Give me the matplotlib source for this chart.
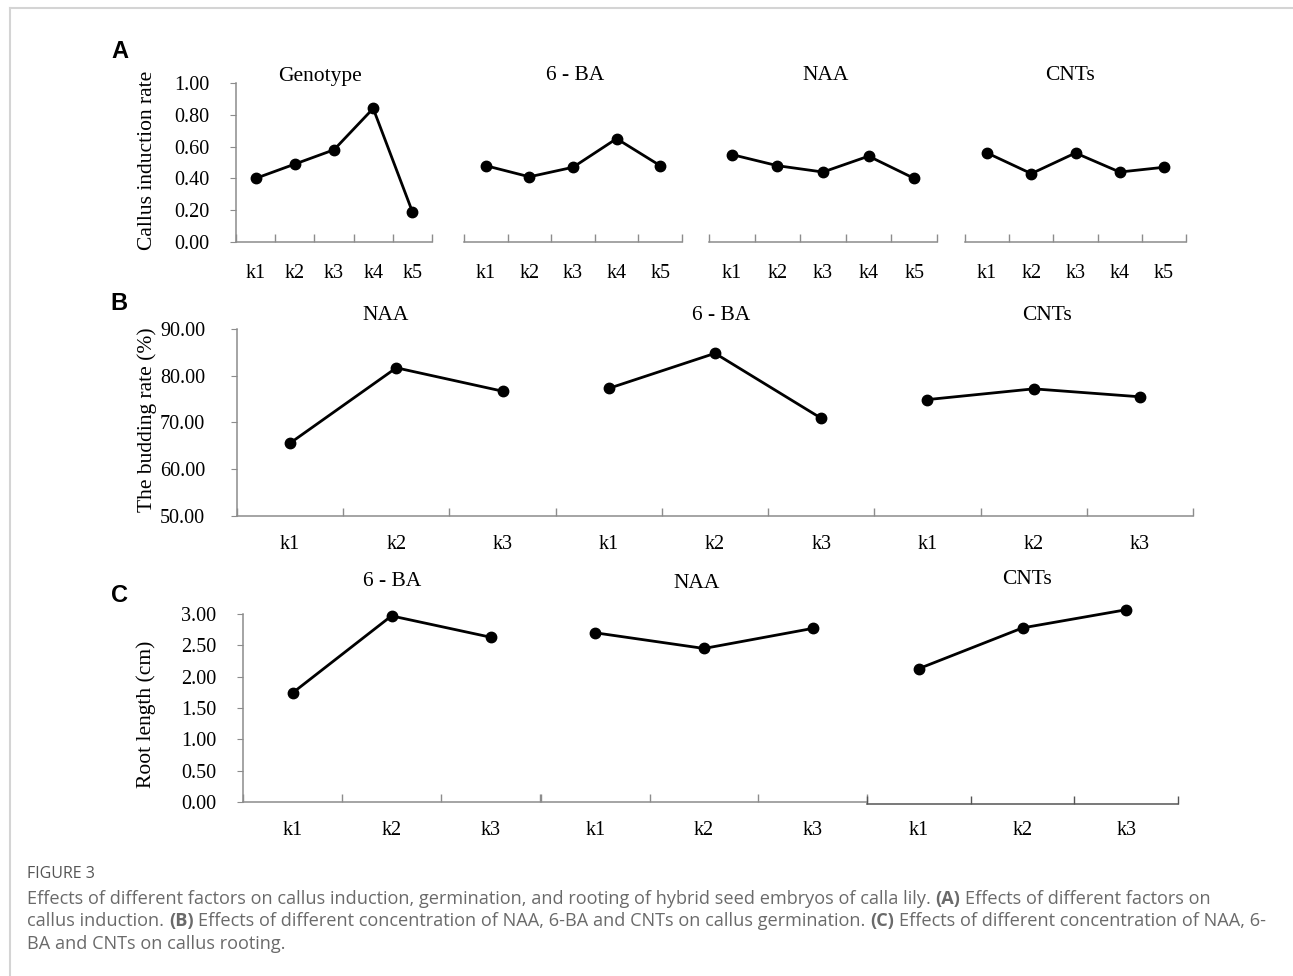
import matplotlib
matplotlib.use('Agg')
import matplotlib.pyplot as plt
from matplotlib.lines import Line2D
import numpy as np

# data
cats5 = ['k1', 'k2', 'k3', 'k4', 'k5']
cats3 = ['k1', 'k2', 'k3']

a_titles = ['Genotype', '6 - BA', 'NAA', 'CNTs']
a_genotype = [0.40, 0.49, 0.58, 0.84, 0.19]
a_6ba = [0.48, 0.41, 0.47, 0.65, 0.48]
a_naa = [0.55, 0.48, 0.44, 0.54, 0.40]
a_cnts = [0.56, 0.43, 0.56, 0.44, 0.47]

b_titles = ['NAA', '6 - BA', 'CNTs']
b_naa = [65.6, 81.7, 76.7]
b_6ba = [77.3, 84.8, 70.9]
b_cnts = [74.9, 77.2, 75.5]

c_titles = ['6 - BA', 'NAA', 'CNTs']
c_6ba = [1.74, 2.97, 2.63]
c_naa = [2.70, 2.45, 2.77]
c_cnts = [2.16, 2.81, 3.10]

W, H = 1293, 976
plt.rcParams['font.family'] = ['Liberation Serif', 'DejaVu Serif']
fig = plt.figure(figsize=(W / 100, H / 100), dpi=100)
fig.patch.set_facecolor('white')

FS = 14.5      # tick labels
TFS = 15.5     # subplot titles
LFS = 15.5     # y labels
AXC = '#8c8c8c'
LW = 2.0
MS = 7.5


def box(x0, x1, ytop, ybot):
    # pixel box -> figure fraction
    return [x0 / W, 1 - ybot / H, (x1 - x0) / W, (ybot - ytop) / H]


def cat_axis(ax, labels, show_y, pad, ypad=15, spine_c=AXC):
    n = len(labels)
    ax.set_xlim(0, n)
    ax.set_xticks(np.arange(n + 1))
    ax.set_xticklabels([])
    ax.set_xticks(np.arange(n) + 0.5, minor=True)
    ax.set_xticklabels(labels, minor=True, fontsize=FS)
    ax.tick_params(axis='x', which='major', direction='in', length=6,
                   color=spine_c, width=1)
    ax.tick_params(axis='x', which='minor', length=0, pad=pad)
    for s in ['top', 'right']:
        ax.spines[s].set_visible(False)
    ax.spines['bottom'].set_color(spine_c)
    ax.spines['bottom'].set_linewidth(1.1)
    if show_y:
        ax.spines['left'].set_color(AXC)
        ax.spines['left'].set_linewidth(1.1)
        ax.tick_params(axis='y', direction='out', length=4, color=AXC,
                       labelsize=FS, pad=ypad)
    else:
        ax.spines['left'].set_visible(False)
        ax.tick_params(axis='y', left=False, labelleft=False)
    ax.patch.set_visible(False)


def series(ax, xs, ys):
    ax.plot(xs, ys, color='black', lw=LW, marker='o', ms=MS,
            clip_on=False, solid_joinstyle='round')


# ---------- panel A ----------
a_data = [a_genotype, a_6ba, a_naa, a_cnts]
a_x = [(236, 432), (464, 682), (709, 937), (965, 1186)]
a_title_x = [320, 575, 826, 1070]
for i, (vals, (x0, x1)) in enumerate(zip(a_data, a_x)):
    ax = fig.add_axes(box(x0, x1, 83, 242))
    ax.set_ylim(0, 1.0)
    ax.set_yticks(np.arange(0, 1.01, 0.2))
    ax.set_yticklabels(['%.2f' % v for v in np.arange(0, 1.01, 0.2)])
    cat_axis(ax, cats5, i == 0, pad=16, ypad=15)
    series(ax, np.arange(len(vals)) + 0.5, vals)
    fig.text(a_title_x[i] / W, 1 - 76 / H, a_titles[i], fontsize=TFS,
             ha='center', va='center')
fig.text(147 / W, 1 - 160 / H, 'Callus induction rate', rotation=90,
         fontsize=LFS, ha='center', va='center')

# ---------- panel B ----------
axb = fig.add_axes(box(237, 1193, 329, 516))
axb.set_ylim(50, 90)
axb.set_yticks(np.arange(50, 91, 10))
axb.set_yticklabels(['%.2f' % v for v in np.arange(50, 91, 10)])
cat_axis(axb, cats3 * 3, True, pad=13.5, ypad=19)
b_title_x = [386, 721, 1047]
for g, vals in enumerate([b_naa, b_6ba, b_cnts]):
    series(axb, np.arange(3) + 0.5 + 3 * g, vals)
    fig.text(b_title_x[g] / W, 1 - 315 / H, b_titles[g], fontsize=TFS,
             ha='center', va='center')
fig.text(147 / W, 1 - 420 / H, 'The budding rate (%)', rotation=90,
         fontsize=LFS, ha='center', va='center')

# ---------- panel C ----------
c_data = [c_6ba, c_naa, c_cnts]
c_x = [(243, 540), (541, 867), (867, 1178)]
c_title = [(392, 582), (697, 584), (1027, 580)]
for i, (vals, (x0, x1)) in enumerate(zip(c_data, c_x)):
    ybot = 804 if i == 2 else 802
    ax = fig.add_axes(box(x0, x1, 614 + (ybot - 802), ybot))
    ax.set_ylim(0, 3.0)
    ax.set_yticks(np.arange(0, 3.01, 0.5))
    ax.set_yticklabels(['%.2f' % v for v in np.arange(0, 3.01, 0.5)])
    cat_axis(ax, cats3, i == 0, pad=14 if i < 2 else 12.5, ypad=15,
             spine_c='#555555' if i == 2 else AXC)
    series(ax, np.arange(3) + 0.5, vals)
    fig.text(c_title[i][0] / W, 1 - c_title[i][1] / H, c_titles[i],
             fontsize=TFS, ha='center', va='center')
fig.text(146 / W, 1 - 714 / H, 'Root length (cm)', rotation=90,
         fontsize=LFS, ha='center', va='center')

# panel letters
for lab, (px, py) in zip('ABC', [(120, 52), (119, 304), (119, 595)]):
    fig.text(px / W, 1 - py / H, lab, fontsize=17, fontweight='bold',
             family='Liberation Sans', ha='center', va='center')

# ---------- caption ----------
CAP_FAM = 'Open Sans'
CAP_C = '#6a6a6a'
fig.text(27 / W, 1 - 874 / H, 'FIGURE 3', fontsize=11.5, color='#555555',
         family=CAP_FAM, ha='left', va='center')

cap_lines = [
    [('Effects of different factors on callus induction, germination, and rooting of hybrid seed embryos of calla lily.', False),
     ('(A)', True), ('Effects of different factors on', False)],
    [('callus induction.', False), ('(B)', True),
     ('Effects of different concentration of NAA, 6-BA and CNTs on callus germination.', False),
     ('(C)', True), ('Effects of different concentration of NAA, 6-', False)],
    [('BA and CNTs on callus rooting.', False)],
]
cap_y = [899, 921, 944]
renderer = fig.canvas.get_renderer()


def twidth(s, size, bold=False):
    t = fig.text(0, 0, s, fontsize=size, family=CAP_FAM,
                 fontweight='bold' if bold else 'normal')
    w = t.get_window_extent(renderer=renderer).width
    t.remove()
    return w


# fit the second caption line to its width in the figure
ref = 10.0
w2 = sum(twidth(s, ref, b) for s, b in cap_lines[1]) + \
    (len(cap_lines[1]) - 1) * (twidth('a a', ref) - twidth('aa', ref))
cap_fs = ref * (1262 - 27) / w2
space = twidth('a a', cap_fs) - twidth('aa', cap_fs)

for parts, yy in zip(cap_lines, cap_y):
    x = 27.0
    for s, b in parts:
        fig.text(x / W, 1 - yy / H, s, fontsize=cap_fs, family=CAP_FAM,
                 fontweight='bold' if b else 'normal', color=CAP_C,
                 ha='left', va='center')
        x += twidth(s, cap_fs, b) + space

# light frame on top and left
fig.add_artist(Line2D([10 / W, 1], [1 - 8 / H, 1 - 8 / H], color='#d4d4d4',
                      lw=1.5, transform=fig.transFigure))
fig.add_artist(Line2D([10 / W, 10 / W], [0, 1 - 8 / H], color='#d4d4d4',
                      lw=1.5, transform=fig.transFigure))

fig.savefig('out.png', dpi=100, facecolor='white')
